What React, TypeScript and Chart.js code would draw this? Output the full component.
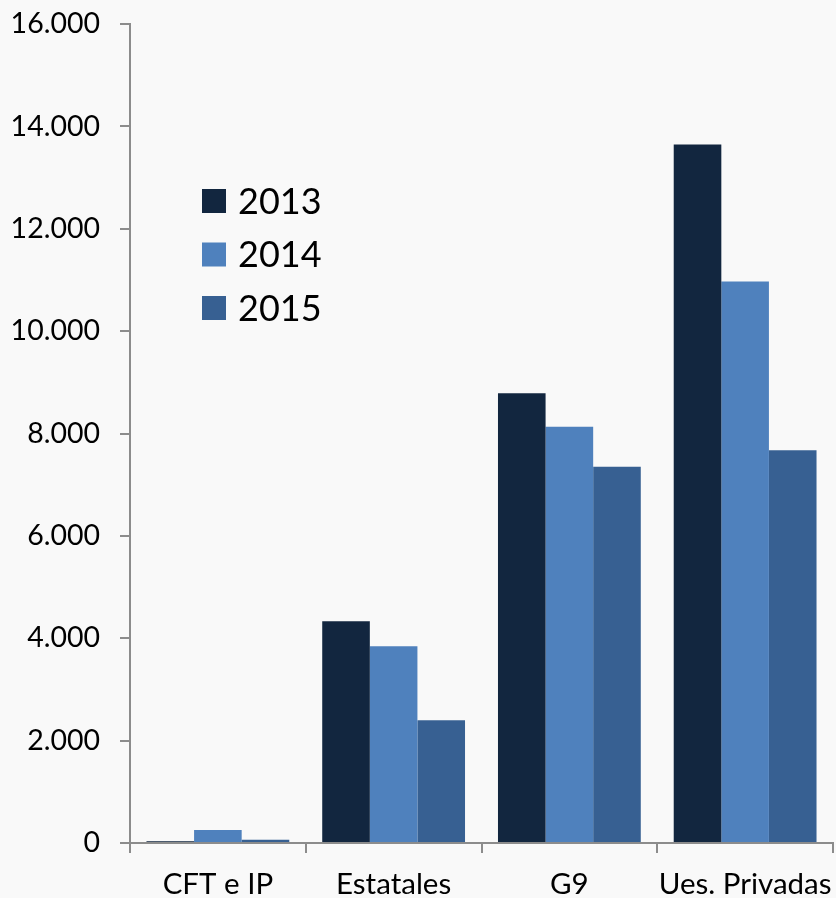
import React, { useEffect, useRef } from "react";
import { Chart, registerables } from "chart.js";

Chart.register(...registerables);

const categories = ["CFT e IP", "Estatales", "G9", "Ues. Privadas"];
const seriesLabels = ["2013", "2014", "2015"];
const values2013 = [35, 4330, 8785, 13645];
const values2014 = [255, 3845, 8130, 10970];
const values2015 = [65, 2400, 7350, 7675];
const seriesColors = ["#12263F", "#4F81BD", "#376092"];
const yMin = 0;
const yMax = 16000;
const yStep = 2000;

const FONT = "Lato, Carlito, Calibri, sans-serif";
const AXIS = "#8C8C8C";

function fmt(v: number) {
  return String(Math.round(v)).replace(/\B(?=(\d{3})+(?!\d))/g, ".");
}

const legendPlugin = {
  id: "floatLegend",
  afterDraw(chart: any) {
    const ctx = chart.ctx;
    ctx.save();
    const x0 = 202;
    const y0 = 201;
    const gap = 53.5;
    chart.data.datasets.forEach((ds: any, i: number) => {
      const cy = y0 + i * gap;
      ctx.fillStyle = ds.backgroundColor;
      ctx.fillRect(x0, cy - 12, 24, 24);
      ctx.fillStyle = "#000";
      ctx.font = `36px ${FONT}`;
      ctx.textBaseline = "middle";
      ctx.textAlign = "left";
      ctx.fillText(ds.label, x0 + 36, cy + 1);
    });
    ctx.restore();
  },
};

const bgPlugin = {
  id: "bg",
  beforeDraw(chart: any) {
    const ctx = chart.ctx;
    ctx.save();
    ctx.fillStyle = "#F9F9F9";
    ctx.fillRect(0, 0, chart.width, chart.height);
    ctx.restore();
  },
};

export default function App() {
  const ref = useRef<HTMLCanvasElement>(null);
  useEffect(() => {
    document.body.style.margin = "0";
    const seriesValues = [values2013, values2014, values2015];
    const chart = new Chart(ref.current as HTMLCanvasElement, {
      type: "bar",
      data: {
        labels: categories,
        datasets: seriesLabels.map((l, i) => ({
          label: l,
          data: seriesValues[i],
          backgroundColor: seriesColors[i],
          borderWidth: 0,
          categoryPercentage: 0.8125,
          barPercentage: 1,
        })),
      },
      options: {
        responsive: false,
        animation: false,
        layout: { padding: { top: 24, right: 3, left: 0, bottom: 0 } },
        plugins: { legend: { display: false }, tooltip: { enabled: false } },
        scales: {
          x: {
            offset: true,
            grid: {
              offset: true,
              drawOnChartArea: false,
              drawTicks: true,
              tickLength: 10,
              color: AXIS,
              lineWidth: 2,
            },
            border: { color: AXIS, width: 2 },
            ticks: {
              color: "#000",
              font: { family: FONT, size: 29.5 },
              padding: 14,
              maxRotation: 0,
              autoSkip: false,
            },
            afterFit(scale: any) {
              scale.height = 55;
              scale.paddingLeft = 0;
              scale.paddingRight = 0;
            },
          },
          y: {
            min: yMin,
            max: yMax,
            grid: {
              drawOnChartArea: false,
              drawTicks: true,
              tickLength: 10,
              color: AXIS,
              lineWidth: 2,
            },
            border: { color: AXIS, width: 2 },
            ticks: {
              stepSize: yStep,
              color: "#000",
              font: { family: FONT, size: 28.5 },
              padding: 20,
              callback: (v: any) => fmt(Number(v)),
            },
            afterFit(scale: any) {
              scale.width = 130;
              scale.paddingTop = 0;
              scale.paddingBottom = 0;
            },
          },
        },
      },
      plugins: [bgPlugin, legendPlugin],
    });
    return () => chart.destroy();
  }, []);
  return (
    <div style={{ position: "fixed", left: 0, top: 0, width: 836, height: 898 }}>
      <canvas ref={ref} width={836} height={898} style={{ display: "block" }} />
    </div>
  );
}
